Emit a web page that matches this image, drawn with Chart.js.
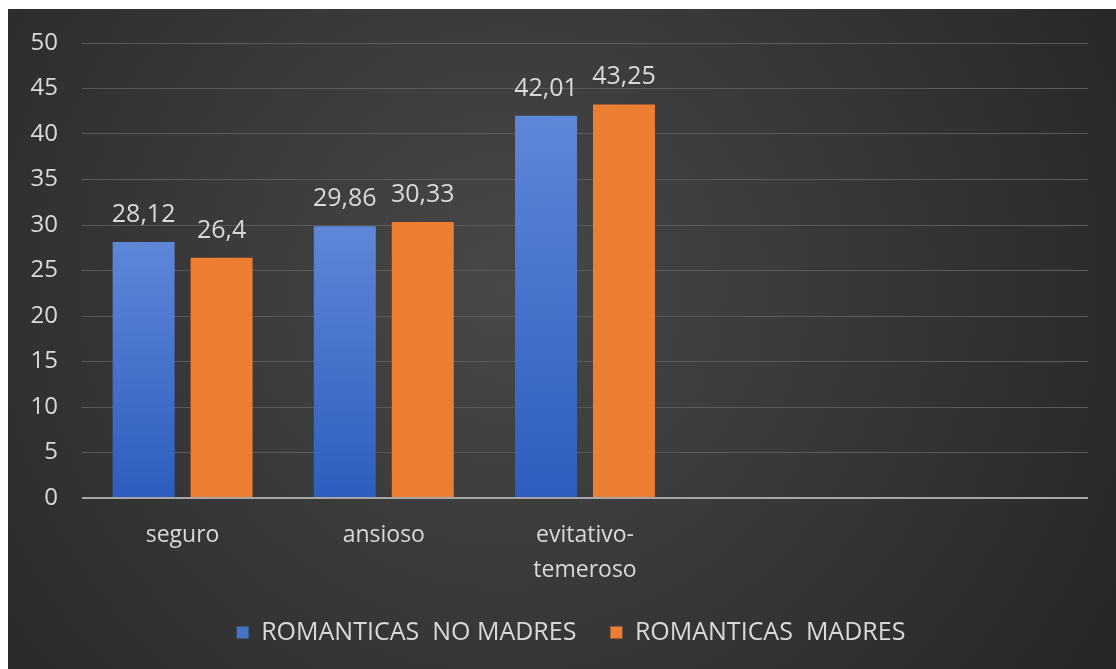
<!DOCTYPE html>
<html>
<head>
<meta charset="utf-8">
<script src="https://cdn.jsdelivr.net/npm/chart.js@4"></script>
<style>
  html, body { margin: 0; padding: 0; background: #ffffff; }
  #wrap { position: absolute; left: 8px; top: 9px; width: 1108px; height: 660px; }
</style>
</head>
<body>
<div id="wrap"><canvas id="myChart" width="1108" height="660"></canvas></div>
<script>
const categorias = ["seguro", "ansioso", ["evitativo-", "temeroso"], "", ""];
const noMadres = [28.12, 29.86, 42.01, null, null];
const madres = [26.4, 30.33, 43.25, null, null];
const ticksY = [0, 5, 10, 15, 20, 25, 30, 35, 40, 45, 50];

const textColor = "#d9d9d9";
const fontFamily = "'Open Sans', 'Noto Sans', sans-serif";

// dark radial background like the office chart style
const fondo = {
  id: "fondo",
  beforeDraw(chart) {
    const { ctx, width, height } = chart;
    const g = ctx.createRadialGradient(width * 0.45, height * 0.42, 0, width * 0.45, height * 0.42, width * 0.62);
    g.addColorStop(0, "#484848");
    g.addColorStop(1, "#272727");
    ctx.save();
    ctx.fillStyle = g;
    ctx.fillRect(0, 0, width, height);
    ctx.restore();
  },
};

// value labels above each bar, decimal comma
const etiquetas = {
  id: "etiquetas",
  afterDatasetsDraw(chart) {
    const { ctx } = chart;
    ctx.save();
    ctx.fillStyle = textColor;
    ctx.font = "25px " + fontFamily;
    ctx.textAlign = "center";
    ctx.textBaseline = "alphabetic";
    chart.data.datasets.forEach((ds, i) => {
      chart.getDatasetMeta(i).data.forEach((bar, j) => {
        const v = ds.data[j];
        if (v === null) return;
        ctx.fillText(String(v).replace(".", ","), bar.x, bar.y - 20);
      });
    });
    ctx.restore();
  },
};

// the legend sits a bit right of the canvas centre in the original
const moverLeyenda = {
  id: "moverLeyenda",
  afterLayout(chart) {
    chart.legend.left += 23;
    chart.legend.right += 23;
  },
};

function azul(context) {
  const chart = context.chart;
  if (!chart.chartArea || context.raw === undefined || context.raw === null) return "#4472c4";
  const y = chart.scales.y;
  const top = y.getPixelForValue(context.raw);
  const bottom = y.getPixelForValue(0);
  const g = chart.ctx.createLinearGradient(0, top, 0, bottom);
  g.addColorStop(0, "#5f87d8");
  g.addColorStop(1, "#2d5dbf");
  return g;
}

const ctx = document.getElementById("myChart").getContext("2d");
const chart = new Chart(ctx, {
  type: "bar",
  data: {
    labels: categorias,
    datasets: [
      {
        label: "ROMANTICAS  NO MADRES",
        data: noMadres,
        backgroundColor: azul,
        categoryPercentage: 0.775,
        barPercentage: 0.795,
      },
      {
        label: "ROMANTICAS  MADRES",
        data: madres,
        backgroundColor: "#ed7d31",
        categoryPercentage: 0.775,
        barPercentage: 0.795,
      },
    ],
  },
  options: {
    responsive: false,
    animation: false,
    layout: { padding: { top: 34, right: 28, bottom: 14, left: 0 } },
    scales: {
      x: {
        grid: { display: false, drawTicks: false },
        border: { display: false },
        ticks: {
          color: textColor,
          font: { family: fontFamily, size: 23, lineHeight: 1.52 },
          padding: 20,
          maxRotation: 0,
          autoSkip: false,
        },
        afterFit(scale) {
          scale.height = 88;
        },
      },
      y: {
        min: 0,
        max: 50,
        afterBuildTicks(scale) {
          scale.ticks = ticksY.map((v) => ({ value: v }));
        },
        grid: {
          color: (c) => (c.tick.value === 0 ? "#a6a6a6" : "#5a5a5a"),
          lineWidth: (c) => (c.tick.value === 0 ? 2 : 1),
          drawTicks: false,
        },
        border: { display: false },
        ticks: {
          color: textColor,
          font: { family: fontFamily, size: 24 },
          padding: 24,
        },
        afterFit(scale) {
          scale.width = 74;
          scale.paddingTop = 0;
          scale.paddingBottom = 0;
        },
      },
    },
    plugins: {
      legend: {
        position: "bottom",
        labels: {
          color: textColor,
          font: { family: fontFamily, size: 25 },
          boxWidth: 12,
          boxHeight: 12,
          padding: 34,
          generateLabels(chart) {
            const colores = ["#4472c4", "#ed7d31"];
            return chart.data.datasets.map((ds, i) => ({
              text: ds.label,
              fillStyle: colores[i],
              strokeStyle: colores[i],
              lineWidth: 0,
              fontColor: textColor,
              datasetIndex: i,
              hidden: false,
            }));
          },
        },
      },
      tooltip: { enabled: false },
    },
  },
  plugins: [fondo, etiquetas, moverLeyenda],
});
</script>
</body>
</html>
